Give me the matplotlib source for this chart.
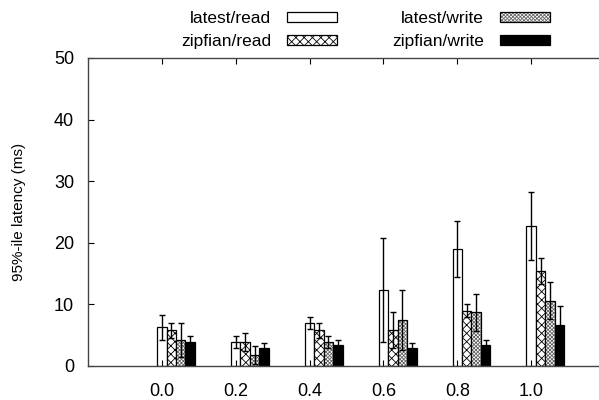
import numpy as np
import matplotlib
matplotlib.use('Agg')
import matplotlib.pyplot as plt

plt.rcParams['font.family'] = ['Liberation Sans', 'DejaVu Sans']
plt.rcParams['hatch.linewidth'] = 0.6

# read fraction on x axis
ratios = ['0.0', '0.2', '0.4', '0.6', '0.8', '1.0']
series = ['latest/read', 'zipfian/read', 'latest/write', 'zipfian/write']

# 95th percentile latency (ms) and error bars
latest_read = [6.3, 3.9, 7.0, 12.3, 19.0, 22.7]
latest_read_err = [2.0, 1.0, 1.0, 8.4, 4.5, 5.5]
zipfian_read = [5.8, 3.9, 5.8, 5.8, 9.0, 15.4]
zipfian_read_err = [1.2, 1.5, 1.2, 2.9, 1.0, 2.1]
latest_write = [4.2, 1.8, 3.9, 7.5, 8.7, 10.6]
latest_write_err = [2.7, 1.5, 0.9, 4.9, 3.0, 3.0]
zipfian_write = [3.9, 2.9, 3.4, 2.9, 3.4, 6.7]
zipfian_write_err = [0.9, 0.9, 0.8, 0.9, 0.8, 3.0]

values = [latest_read, zipfian_read, latest_write, zipfian_write]
errors = [latest_read_err, zipfian_read_err, latest_write_err, zipfian_write_err]
faces = ['white', 'white', 'white', 'black']
hatches = [None, 'xxxx', 'xxxxxxxxx', None]
hatch_cols = ['black', 'black', '#666666', 'black']

fig = plt.figure(figsize=(5.99, 4.0), dpi=100)
ax = fig.add_axes([88 / 599, 1 - 366 / 400, 517 / 599, 308 / 400])

x = np.arange(len(ratios))
w = 0.128
handles = []
for k in range(4):
    # hatch drawn with its own colour, outline redrawn in black on top
    ax.bar(x + k * w, values[k], w, color=faces[k], edgecolor=hatch_cols[k],
           hatch=hatches[k], linewidth=0)
    ax.bar(x + k * w, values[k], w, color='none', edgecolor='black',
           linewidth=0.9, yerr=errors[k],
           error_kw=dict(ecolor='black', elinewidth=1, capsize=2.5,
                         capthick=1))
    fill = plt.Rectangle((0, 0), 1, 1, facecolor=faces[k],
                         edgecolor=hatch_cols[k], hatch=hatches[k], linewidth=0)
    outline = plt.Rectangle((0, 0), 1, 1, facecolor='none',
                            edgecolor='black', linewidth=0.9)
    handles.append((fill, outline))

ax.set_xlim(-1, 6)
ax.set_ylim(0, 50)
ax.set_xticks(x)
ax.set_xticklabels(ratios)
ax.set_yticks([0, 10, 20, 30, 40, 50])
ax.tick_params(direction='in', length=4, labelsize=13, top=True, right=True,
               pad=12)
ax.tick_params(axis='y', pad=10)
for s in ax.spines.values():
    s.set_linewidth(1)
    s.set_color('#444444')
ax.set_ylabel('95%-ile latency (ms)', fontsize=11, labelpad=20)

fig.legend(handles=handles, labels=series, ncol=2, markerfirst=False,
           loc='upper left', bbox_to_anchor=(170 / 599, 1.0),
           frameon=False, fontsize=12.5, handlelength=2.9,
           handleheight=0.55, handletextpad=0.9, columnspacing=3.15,
           labelspacing=0.45, borderaxespad=0.25)

fig.savefig('out.png', dpi=100)
